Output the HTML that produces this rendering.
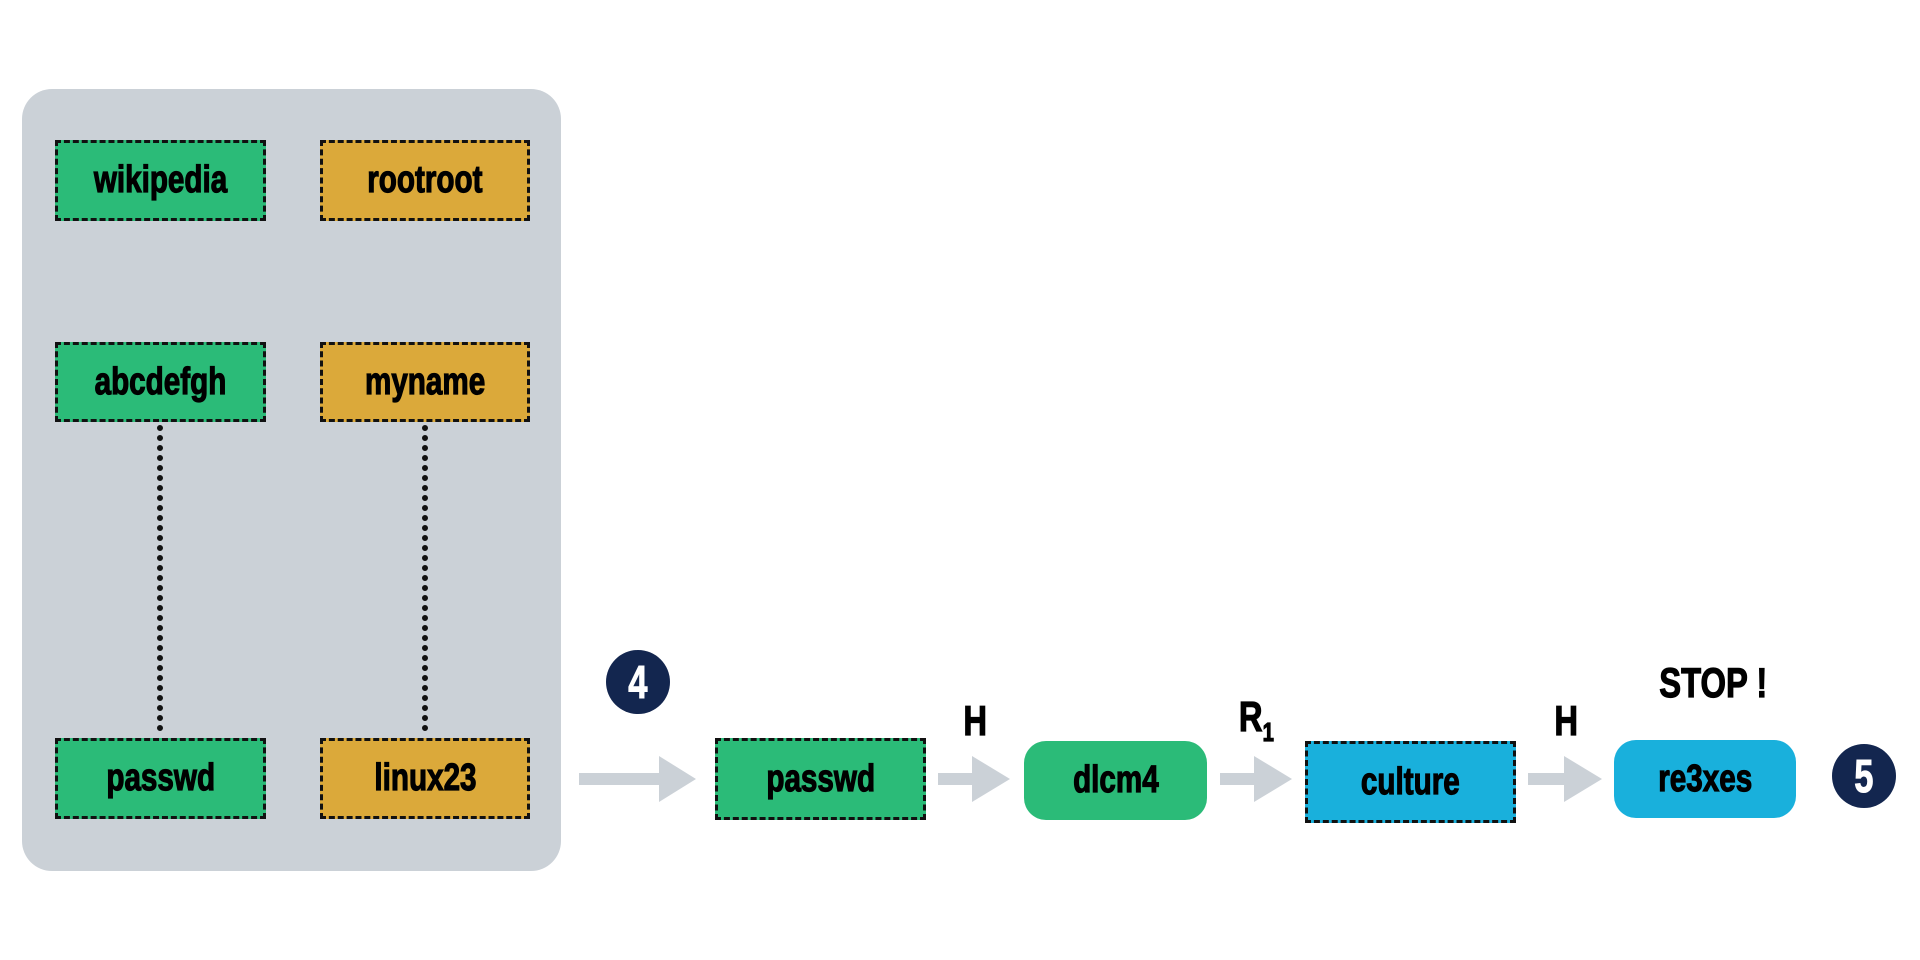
<!DOCTYPE html>
<html><head><style>
body{margin:0;width:1920px;height:960px;background:#fff;position:relative;overflow:hidden;font-family:"Liberation Sans",sans-serif;font-weight:bold;}
.a{position:absolute;box-sizing:border-box;display:flex;align-items:center;justify-content:center;color:#000;font-size:38px;-webkit-text-stroke:1.2px #000;}
.a span,.l span.t{display:inline-block;transform:scaleX(0.78);}
.d{border:3px dashed #111;}
.g{background:#2bbb78}.o{background:#dba93a}.b{background:#19b0dc}
.c{position:absolute;border-radius:50%;background:#13264f;color:#fff;display:flex;align-items:center;justify-content:center;font-size:46px;-webkit-text-stroke:1px #fff;}
.c span{display:inline-block;transform:scaleX(0.75)}
.l{position:absolute;font-size:42px;-webkit-text-stroke:1.2px #000;line-height:1;}
</style></head><body>
<div style="position:absolute;left:22px;top:89px;width:539px;height:782px;background:#cbd1d7;border-radius:30px"></div>
<div class="a d g" style="left:55px;top:140px;width:211px;height:81px"><span>wikipedia</span></div>
<div class="a d o" style="left:320px;top:140px;width:210px;height:81px"><span>rootroot</span></div>
<div class="a d g" style="left:55px;top:342px;width:211px;height:80px"><span>abcdefgh</span></div>
<div class="a d o" style="left:320px;top:342px;width:210px;height:80px"><span>myname</span></div>
<div class="a d g" style="left:55px;top:738px;width:211px;height:81px"><span>passwd</span></div>
<div class="a d o" style="left:320px;top:738px;width:210px;height:81px"><span>linux23</span></div>
<svg style="position:absolute;left:0;top:0" width="1920" height="960">
<line x1="160" y1="428" x2="160" y2="735" stroke="#111" stroke-width="6" stroke-linecap="round" stroke-dasharray="0 10"/>
<line x1="425" y1="428" x2="425" y2="735" stroke="#111" stroke-width="6" stroke-linecap="round" stroke-dasharray="0 10"/>
<g fill="#cbd1d7">
<rect x="579" y="773" width="82" height="12"/><polygon points="659,756 696,779 659,802"/>
<rect x="938" y="773" width="36" height="12"/><polygon points="972,756 1010,779 972,802"/>
<rect x="1220" y="773" width="36" height="12"/><polygon points="1254,756 1292,779 1254,802"/>
<rect x="1528" y="773" width="38" height="12"/><polygon points="1564,756 1602,779 1564,802"/>
</g></svg>
<div class="a d g" style="left:715px;top:738px;width:211px;height:82px"><span>passwd</span></div>
<div class="a g" style="left:1024px;top:741px;width:183px;height:79px;border-radius:22px"><span>dlcm4</span></div>
<div class="a d b" style="left:1305px;top:741px;width:211px;height:82px"><span>culture</span></div>
<div class="a b" style="left:1614px;top:740px;width:182px;height:78px;border-radius:22px"><span>re3xes</span></div>
<div class="c" style="left:606px;top:650px;width:64px;height:64px"><span>4</span></div>
<div class="c" style="left:1832px;top:744px;width:64px;height:64px"><span>5</span></div>
<div class="l" style="left:960px;top:700px"><span class="t">H</span></div>
<div class="l" style="left:1234px;top:696px"><span class="t">R<span style="font-size:26px;vertical-align:-10px">1</span></span></div>
<div class="l" style="left:1551px;top:700px"><span class="t">H</span></div>
<div class="l" style="left:1644px;top:662px"><span class="t">STOP !</span></div>
</body></html>
